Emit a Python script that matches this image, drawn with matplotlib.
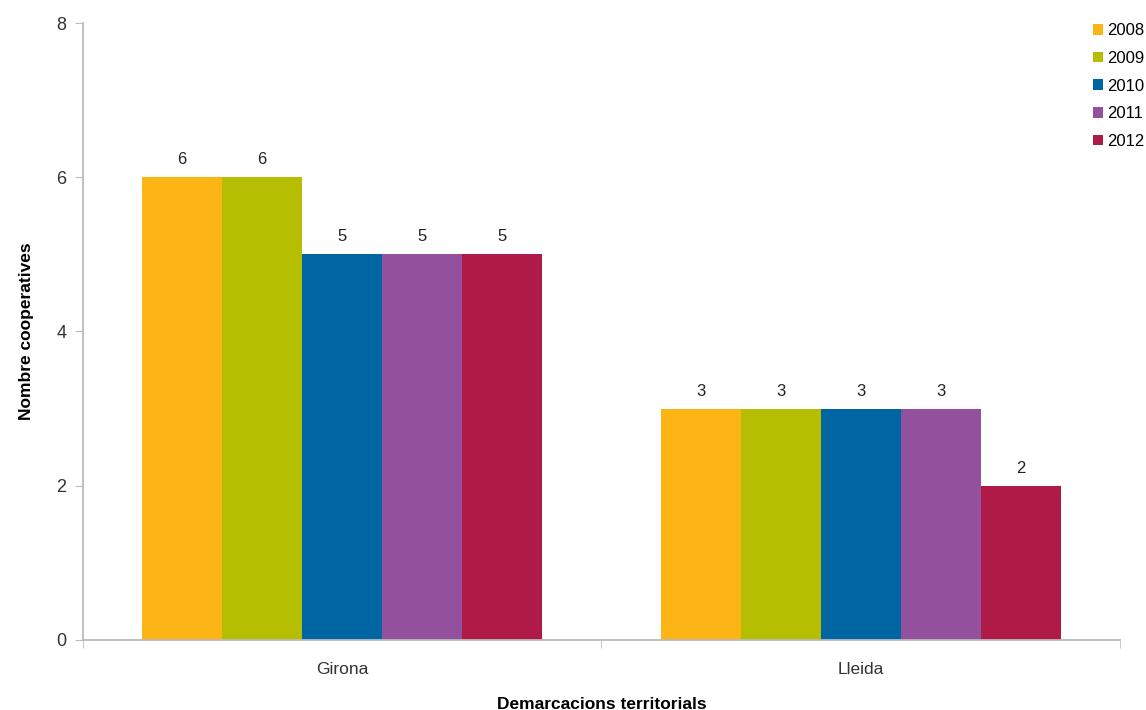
import numpy as np
import matplotlib
matplotlib.use('Agg')
import matplotlib.pyplot as plt

plt.rcParams['font.family'] = ['Liberation Sans', 'DejaVu Sans']

regions = ['Girona', 'Lleida']
years = ['2008', '2009', '2010', '2011', '2012']
counts = {
  '2008': [6, 3],
  '2009': [6, 3],
  '2010': [5, 3],
  '2011': [5, 3],
  '2012': [5, 2],
}
colors = ['#FDB515', '#B5BE00', '#0065A3', '#93509D', '#B01A46']

fig = plt.figure(figsize=(11.46, 7.10), dpi=100)
ax = fig.add_axes([0.0724, 0.0986, 0.9048, 0.869])

x = np.arange(len(regions))
w = 0.1543
for i, yr in enumerate(years):
  pos = x + (i - 2) * w
  bars = ax.bar(pos, counts[yr], w, color=colors[i], label=yr, zorder=2)
  for b, v in zip(bars, counts[yr]):
    ax.text(b.get_x() + b.get_width() / 2, v + 0.13, str(v),
            ha='center', va='bottom', fontsize=12, color='#222222')

ax.set_xlim(-0.5, 1.5)
ax.set_ylim(0, 8)
ax.set_yticks([0, 2, 4, 6, 8])
ax.set_xticks(x)
ax.set_xticklabels(regions, fontsize=12.5, color='#333333')
ax.set_xticks([-0.5, 0.5, 1.5], minor=True)
ax.tick_params(axis='x', which='major', length=0, pad=16)
ax.tick_params(axis='x', which='minor', length=6, color='#bbbbbb', direction='out')
ax.tick_params(axis='y', length=6, color='#bbbbbb', labelsize=13, labelcolor='#333333', pad=6)
for s in ['top', 'right']:
  ax.spines[s].set_visible(False)
for s in ['left', 'bottom']:
  ax.spines[s].set_color('#bbbbbb')
  ax.spines[s].set_linewidth(1.3)

ax.set_xlabel('Demarcacions territorials', fontsize=12.5, fontweight='bold', labelpad=14)
ax.set_ylabel('Nombre cooperatives', fontsize=12.5, fontweight='bold', labelpad=16)

leg = ax.legend(loc='upper left', bbox_to_anchor=(0.96, 1.024), frameon=False,
                fontsize=12, handlelength=0.6, handleheight=0.6,
                handletextpad=0.25, labelspacing=0.76)

plt.savefig('out.png')
